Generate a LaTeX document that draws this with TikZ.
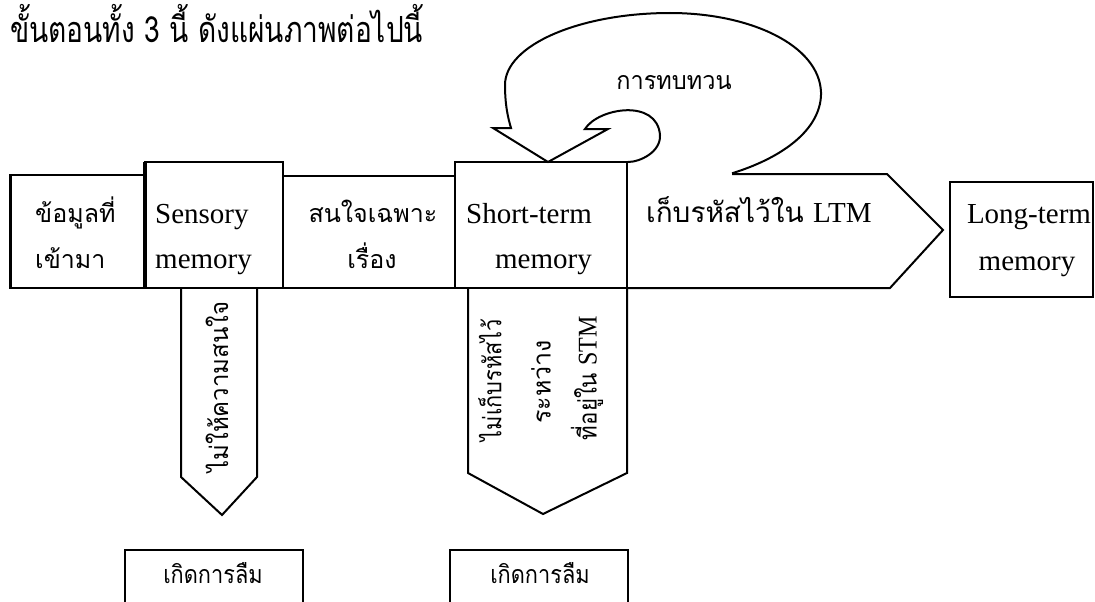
\documentclass[tikz,border=0pt]{standalone}
\usepackage{fontspec}
\setmainfont{Liberation Serif}
\newfontfamily\thai[Script=Thai]{Loma}
\newcommand\cnd[2]{\scalebox{#1}[1]{#2}}
\begin{document}
\begin{tikzpicture}[x=1pt,y=-1pt,
  ln/.style={line width=2pt, line join=miter, line cap=rect},
  thk/.style={line width=4pt},
  lat/.style={inner sep=0pt, font=\fontsize{29}{32}\selectfont},
  th/.style={inner sep=0pt, font=\thai\fontsize{25}{28}\selectfont},
  ttl/.style={inner sep=0pt, font=\thai\fontsize{36}{40}\selectfont}]
\useasboundingbox (0,0) rectangle (1095,602);
% title
\node[ttl, anchor=base west] (title) at (10,43) {\cnd{0.78}{ขั้นตอนทั้ง 3 นี้ ดังแผ่นภาพต่อไปนี้}};
% main band boxes
\draw[ln] (10,175) rectangle (145,288);
\draw[line width=3pt] (10,175) -- (10,288);
\draw[ln] (145,162) rectangle (283,288);
\draw[thk] (145,162) -- (145,288);
\draw[ln] (283,176) rectangle (455,288);
\draw[ln] (455,162) rectangle (627,288);
% big arrow to LTM
\draw[ln] (733,174) -- (887,174) -- (943,230) -- (890,288) -- (627,288);
% rehearsal loop
\draw[ln] (733,173) .. controls (790,155) and (822,125) .. (821,92)
  .. controls (819,45) and (750,13) .. (670,13)
  .. controls (580,13) and (505,45) .. (505,85)
  .. controls (505,105) and (508,118) .. (511,128)
  -- (493,128) -- (548,162) -- (608,129) -- (585,129)
  .. controls (598,108) and (657,98) .. (660,135)
  .. controls (661,152) and (640,162) .. (628,162);
% LTM box
\draw[ln] (950,182) rectangle (1093,297);
% down arrows
\draw[ln] (181,288) -- (181,477) -- (222,515) -- (257,477) -- (257,288);
\draw[ln] (468,288) -- (468,473) -- (543,514) -- (627,473) -- (627,288);
% forget boxes
\draw[ln] (125,606) -- (125,550) -- (303,550) -- (303,606);
\draw[ln] (450,606) -- (450,550) -- (628,550) -- (628,606);
% texts
\node[th, anchor=base west] (in1) at (35,222) {ข้อมูลที่};
\node[th, anchor=base west] (in2) at (35,268) {เข้ามา};
\node[lat, anchor=base west] (sm1) at (155,223) {Sensory};
\node[lat, anchor=base west] (sm2) at (155,268) {memory};
\node[th, anchor=base] (at1) at (373,222) {สนใจเฉพาะ};
\node[th, anchor=base] (at2) at (372,268) {เรื่อง};
\node[lat, anchor=base east] (st1) at (592,223) {Short-term};
\node[lat, anchor=base east] (st2) at (592,268) {memory};
\node[th, anchor=base west, font=\thai\fontsize{28}{30}\selectfont] (enc) at (646,222) {เก็บรหัสไว้ใน \fontspec{Liberation Serif}\fontsize{29}{32}\selectfont LTM};
\node[lat, anchor=base] (lt1) at (1029,223) {Long-term};
\node[lat, anchor=base] (lt2) at (1027,270) {memory};
\node[th] (reh) at (674,83) {\cnd{0.94}{การทบทวน}};
\node[th, rotate=90] (na) at (217,387) {\cnd{0.96}{ไม่ให้ความสนใจ}};
\node[th, rotate=90] (nc1) at (490,380) {\cnd{0.87}{ไม่เก็บรหัสไว้}};
\node[th, rotate=90] (nc2) at (541,382) {ระหว่าง};
\node[th, rotate=90] (nc3) at (587,378) {\cnd{0.89}{ที่อยู่ใน \fontspec{Liberation Serif}\fontsize{27}{30}\selectfont STM}};
\node[th] (f1) at (213,573) {\cnd{0.87}{เกิดการลืม}};
\node[th] (f2) at (540,573) {\cnd{0.87}{เกิดการลืม}};
\end{tikzpicture}
\end{document}
